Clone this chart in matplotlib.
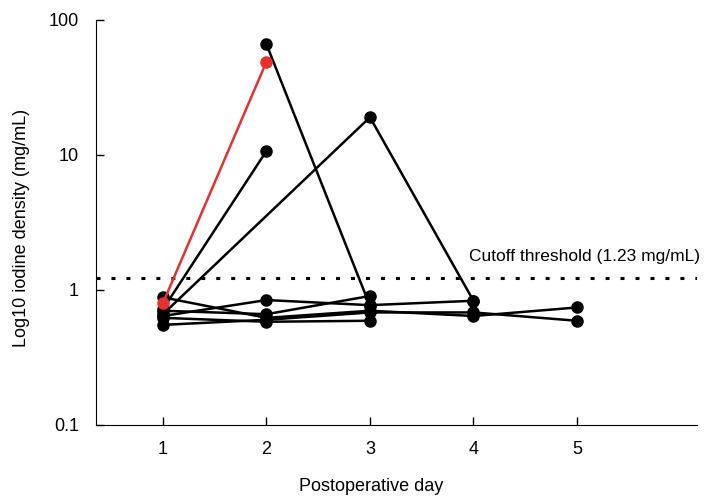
import matplotlib
matplotlib.use('Agg')
import matplotlib.pyplot as plt

plt.rcParams['font.family'] = ['Liberation Sans', 'DejaVu Sans']

# one entry per patient: postoperative days and iodine density (mg/mL)
days = [
    [2, 3],
    [1, 2],
    [1, 3, 4],
    [1, 2, 3, 4, 5],
    [1, 2, 3, 4],
    [1, 2, 3],
    [1, 2, 3, 4, 5],
    [1, 2, 3],
]
density = [
    [66, 0.76],
    [0.72, 10.7],
    [0.66, 19, 0.83],
    [0.88, 0.62, 0.70, 0.64, 0.74],
    [0.64, 0.84, 0.77, 0.83],
    [0.70, 0.66, 0.90],
    [0.55, 0.60, 0.68, 0.68, 0.59],
    [0.62, 0.58, 0.59],
]
# highlighted patient (red)
red_days = [1, 2]
red_density = [0.80, 49]

cutoff = 1.23
xticks = [1, 2, 3, 4, 5]
yticks = [0.1, 1, 10, 100]
ytick_labels = ['0.1', '1', '10', '100']

fig = plt.figure(figsize=(7.04, 4.98), dpi=100)
ax = fig.add_axes([0.136, 0.147, 0.854, 0.813])

ax.axhline(cutoff, color='black', lw=2.2, dashes=(1.3, 3.6), zorder=1)

for d, v in zip(days, density):
    ax.plot(d, v, '-o', color='black', lw=1.8, markersize=8, zorder=2)
ax.plot(red_days, red_density, '-o', color='#e8312f', lw=1.8, markersize=8, zorder=3)

ax.text(3.96, 1.56, 'Cutoff threshold (1.23 mg/mL)', fontsize=12.5, ha='left', va='bottom')

ax.set_yscale('log')
ax.set_ylim(0.1, 100)
ax.set_xlim(0.35, 6.16)
ax.set_yticks(yticks)
ax.set_yticklabels(ytick_labels)
ax.yaxis.set_minor_locator(matplotlib.ticker.NullLocator())
ax.set_xticks(xticks)

ax.spines['top'].set_visible(False)
ax.spines['right'].set_visible(False)
ax.tick_params(direction='in', length=6, width=1, labelsize=13, pad=12)
ax.tick_params(axis='y', pad=12)

ax.set_xlabel('Postoperative day', fontsize=13, va='center')
ax.xaxis.set_label_coords(0.458, -0.152)
ax.set_ylabel('Log10 iodine density (mg/mL)', fontsize=13, va='center')
ax.yaxis.set_label_coords(-0.123, 0.486)

fig.savefig('out.png', dpi=100)
